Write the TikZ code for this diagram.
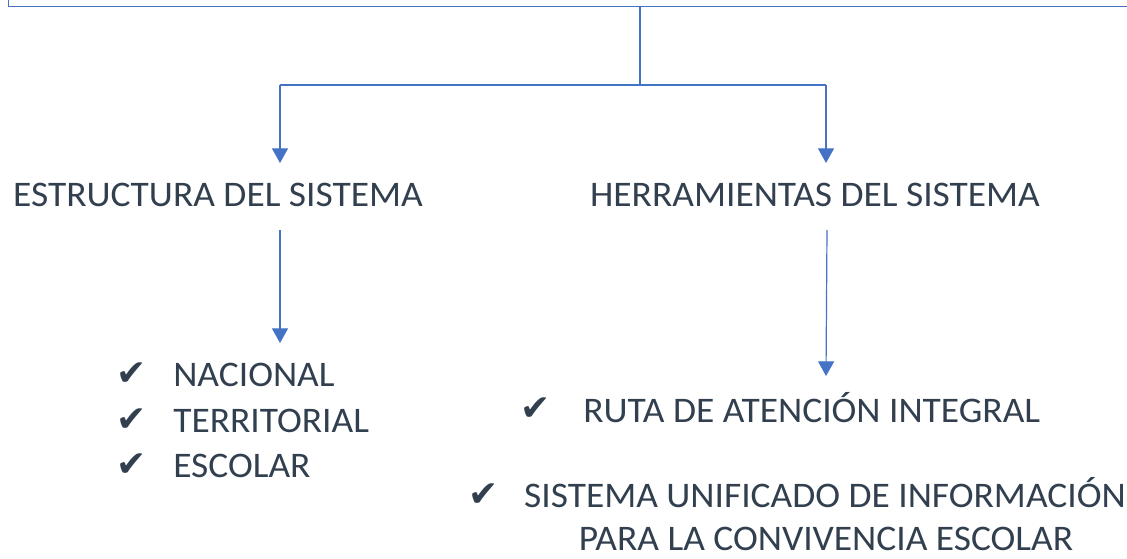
\documentclass[tikz,border=0pt]{standalone}
\usepackage{fontspec}
\setmainfont{Carlito}[FakeStretch=1.04]
\newfontfamily\symfont{DejaVu Sans}
\usetikzlibrary{arrows.meta}
\definecolor{lineblue}{HTML}{4472C4}
\definecolor{textslate}{HTML}{323F4F}
\tikzset{
  conn/.style={draw=lineblue, line width=0.9pt},
  arr/.style={conn, -{Triangle[width=12pt,length=11pt]}},
  heading/.style={text=textslate, font=\fontsize{27}{32}\selectfont, inner sep=0pt, anchor=base},
  item/.style={text=textslate, font=\fontsize{27}{32}\selectfont, inner sep=0pt, anchor=base west},
  checkmk/.style={text=textslate, font=\symfont\fontsize{27}{32}\selectfont, inner sep=0pt, anchor=base},
}
\begin{document}
\begin{tikzpicture}[x=0.75pt, y=-0.75pt]
\useasboundingbox (0,0) rectangle (1127,558);
% top box, cut off by the page
\node[draw=lineblue, line width=0.9pt, minimum width=894pt, minimum height=45pt,
      anchor=south west, inner sep=0pt] (root) at (8,7) {};
\coordinate (fork) at (640,85);
\coordinate (fl) at (280,85);
\coordinate (fr) at (826,85);
\draw[conn] (fork |- root.south) -- (fork);
\draw[conn] (fl) -- (fr);
\draw[arr] (fl) -- ++(0,78);
\draw[arr] (fr) -- ++(0,78);
% headings
\node[heading] (est) at (218,206) {ESTRUCTURA DEL SISTEMA};
\node[heading] (her) at (815,206) {HERRAMIENTAS DEL SISTEMA};
\coordinate (el) at (280,230);
\coordinate (hl) at (827,230);
\draw[arr] (el) -- ++(0,113);
\draw[arr] (hl) -- (826,376);
% left list
\node[checkmk] (cnac) at (132,385) {✔};
\node[item] (nac) at (173,386) {NACIONAL};
\node[checkmk] (cter) at (132,431) {✔};
\node[item] (ter) at (173,432) {TERRITORIAL};
\node[checkmk] (cesc) at (132,476) {✔};
\node[item] (esc) at (173,477) {ESCOLAR};
% right list
\node[checkmk] (cruta) at (536,420) {✔};
\node[item] (ruta) at (583,422) {RUTA DE ATENCIÓN INTEGRAL};
\node[checkmk] (csis) at (484,506) {✔};
\node[heading] (sis1) at (825,507) {SISTEMA UNIFICADO DE INFORMACIÓN};
\node[heading] (sis2) at (826,550) {PARA LA CONVIVENCIA ESCOLAR};
\end{tikzpicture}
\end{document}
